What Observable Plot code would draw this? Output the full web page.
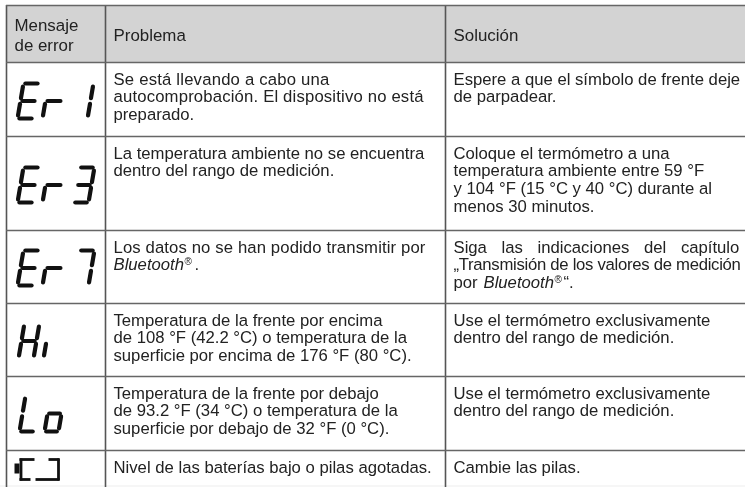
<!DOCTYPE html>
<html><head><meta charset="utf-8">
<script src="https://cdn.jsdelivr.net/npm/d3@7"></script>
<script src="https://cdn.jsdelivr.net/npm/@observablehq/plot@0.6"></script>
<style>
html,body{margin:0;padding:0;background:#fff}
svg{display:block;filter:blur(.35px)}
</style></head><body><div id="c"></div>
<script>
const W=745,H=487;
const rowEdges=[5,62,136,230,303,376,450,485];
const colEdges=[6,105,445,745];
const headers=[{t:"Mensaje",x:14,y:25},{t:"de error",x:14,y:45},{t:"Problema",x:113,y:35},{t:"Solución",x:453,y:35}];
const problemLines=[
 [1,0,"Se está llevando a cabo una"],[1,1,"autocomprobación. El dispositivo no está"],[1,2,"preparado."],
 [2,0,"La temperatura ambiente no se encuentra"],[2,1,"dentro del rango de medición."],
 [3,0,"Los datos no se han podido transmitir por"],
 [4,0,"Temperatura de la frente por encima"],[4,1,"de 108 °F (42.2 °C) o temperatura de la"],[4,2,"superficie por encima de 176 °F (80 °C)."],
 [5,0,"Temperatura de la frente por debajo"],[5,1,"de 93.2 °F (34 °C) o temperatura de la"],[5,2,"superficie por debajo de 32 °F (0 °C)."],
 [6,0,"Nivel de las baterías bajo o pilas agotadas."]];
const solutionLines=[
 [1,0,"Espere a que el símbolo de frente deje"],[1,1,"de parpadear."],
 [2,0,"Coloque el termómetro a una"],[2,1,"temperatura ambiente entre 59 °F"],[2,2,"y 104 °F (15 °C y 40 °C) durante al"],[2,3,"menos 30 minutos."],
 [3,0,"Siga las indicaciones del capítulo"],[3,1,"„Transmisión de los valores de medición"],
 [4,0,"Use el termómetro exclusivamente"],[4,1,"dentro del rango de medición."],
 [5,0,"Use el termómetro exclusivamente"],[5,1,"dentro del rango de medición."],
 [6,0,"Cambie las pilas."]];
const spacing=[
 ["Siga las indicaciones del capítulo","word-spacing","10px"],
 ["„Transmisión de los valores de medición","letter-spacing","-.28px"],
 ["Se está llevando a cabo una","letter-spacing",".2px"],
 ["autocomprobación. El dispositivo no está","letter-spacing",".17px"],
 ["Los datos no se han podido transmitir por","letter-spacing",".12px"]];
const segs={E:"adefg",r:"eg",1:"bc",3:"abcdg",7:"abc",H:"bcefg",i:"c",L:"def",o:"cdeg"};
// glyph: char, left, width, top, height
const glyphs=[
 ["E",17,16,83,35],["r",42,17,83,35],["1",72,15,83,35],
 ["E",17,16,167,35],["r",42,17,167,35],["3",73,15,167,35],
 ["E",17,16,250,35],["r",42,17,250,35],["7",73,15,250,35],
 ["H",18,15,323,35],["i",34,9,323,35],
 ["L",19,15,395,36],["o",44,14,395,36]];
const battery=[[20.5,458,20.5,480],[19,459,34,459],[19,479,30,479],[48,459,59,459],[58,458,58,480],[35,479,59,479]];
const nub=[[14,468,19,468]];

const unit={a:[.12,0,.88,0],b:[1,.09,1,.42],c:[1,.58,1,.91],d:[.12,1,.88,1],e:[0,.58,0,.91],f:[0,.09,0,.42],g:[.12,.5,.88,.5]};
const slant=.17;
const segLinks=glyphs.flatMap(([ch,x,w,y,h])=>[...segs[ch]].map(s=>{
  const [a,b,c,d]=unit[s];
  return {x1:x+a*w+(1-b)*h*slant,y1:y+b*h,x2:x+c*w+(1-d)*h*slant,y2:y+d*h};
}));
const firstLine=r=>rowEdges[r]+17;
const lh=17.6;
const toRow=(x)=>([r,l,t])=>({t,x,y:firstLine(r)+l*lh});
const body=[...problemLines.map(toRow(113)),...solutionLines.map(toRow(453))];
const txt={x:"x",y:"y",text:"t",textAnchor:"start",fontSize:16.7,fill:"#222"};
const rowsBand=[{x1:colEdges[0],x2:W,y1:rowEdges[0],y2:rowEdges[1]}];
const bottomBand=[{x1:0,x2:W,y1:rowEdges[7],y2:H}];
const vs=colEdges.slice(0,3).map(x=>({x}));
const hs=rowEdges.slice(0,7).map(y=>({y}));
const italics=[{t:"Bluetooth",x:113,y:firstLine(3)+lh},{t:"Bluetooth",x:483,y:firstLine(3)+2*lh}];
const regs=[{t:"®",x:184,y:firstLine(3)+lh-3},{t:"®",x:554,y:firstLine(3)+2*lh-3}];
const tail=[{t:".",x:194,y:firstLine(3)+lh},{t:"por",x:453,y:firstLine(3)+2*lh},{t:"“.",x:563,y:firstLine(3)+2*lh}];

const chart=Plot.plot({
 width:W,height:H,margin:0,
 x:{domain:[0,W],range:[0,W],axis:null},
 y:{domain:[0,H],range:[0,H],axis:null},
 style:{fontFamily:"'Liberation Sans',sans-serif",background:"#fff"},
 marks:[
  Plot.rect(rowsBand,{x1:"x1",x2:"x2",y1:"y1",y2:"y2",fill:"#d3d3d3"}),
  Plot.rect(bottomBand,{x1:"x1",x2:"x2",y1:"y1",y2:"y2",fill:"#f6f6f6"}),
  Plot.ruleX(vs,{x:"x",y1:rowEdges[0],y2:H,stroke:"#555",strokeWidth:1.6}),
  Plot.ruleY(hs,{y:"y",x1:colEdges[0],x2:W,stroke:"#666",strokeWidth:1.5}),
  Plot.text(headers,{...txt,fontSize:16.9}),
  Plot.text(body,txt),
  Plot.text(italics,{...txt,fontStyle:"italic"}),
  Plot.text(regs,{...txt,fontSize:10}),
  Plot.text(tail,txt),
  Plot.link(segLinks,{x1:"x1",y1:"y1",x2:"x2",y2:"y2",stroke:"#111",strokeWidth:4.2,strokeLinecap:"round"}),
  Plot.link(battery,{x1:d=>d[0],y1:d=>d[1],x2:d=>d[2],y2:d=>d[3],stroke:"#111",strokeWidth:2.8}),
  Plot.link(nub,{x1:d=>d[0],y1:d=>d[1],x2:d=>d[2],y2:d=>d[3],stroke:"#111",strokeWidth:10})
 ]});
document.getElementById("c").append(chart);
spacing.forEach(([t,prop,val])=>{
  d3.select(chart).selectAll("text").filter(function(){return this.textContent===t}).style(prop,val);
});
</script></body></html>
